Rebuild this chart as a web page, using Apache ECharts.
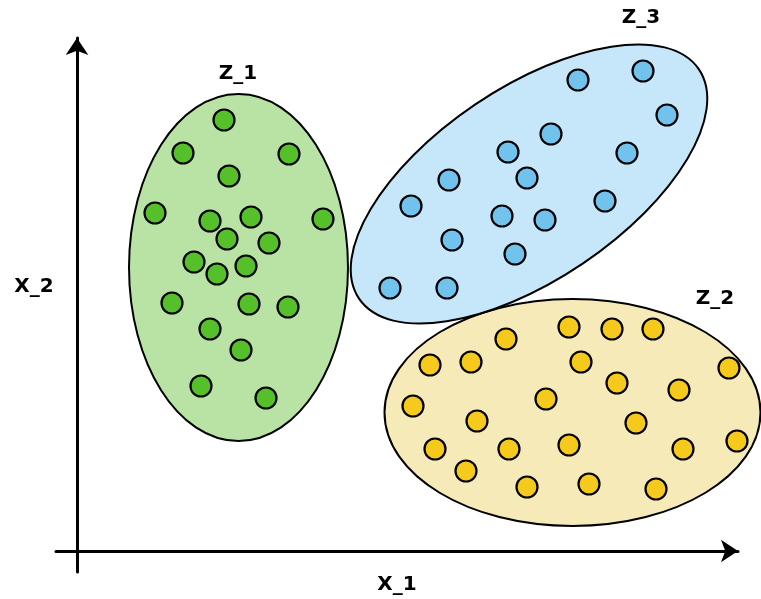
<!DOCTYPE html>
<html>
<head>
<meta charset="utf-8">
<script src="https://cdn.jsdelivr.net/npm/echarts@6/dist/echarts.min.js"></script>
<style>
  html, body { margin: 0; padding: 0; background: #fff; }
  #main { width: 761px; height: 599px; }
</style>
</head>
<body>
<div id="main"></div>
<script>
// cluster points (x_1, x_2)
var z1Points = [
  [147, 431], [106, 398], [212, 397], [152, 375], [78, 338], [133, 330],
  [174, 334], [246, 332], [150, 312], [192, 308], [117, 289], [140, 277],
  [169, 285], [95, 248], [172, 247], [211, 244], [133, 222], [164, 201],
  [124, 165], [189, 153]
];
var z3Points = [
  [501, 471], [566, 480], [590, 436], [474, 417], [431, 399], [550, 398],
  [372, 371], [450, 373], [334, 345], [425, 335], [468, 331], [528, 350],
  [375, 311], [438, 297], [313, 263], [370, 263]
];
var z2Points = [
  [492, 224], [535, 222], [576, 222], [429, 212], [353, 186], [394, 189],
  [504, 189], [652, 183], [540, 168], [602, 161], [336, 145], [469, 152],
  [400, 130], [559, 128], [358, 102], [432, 102], [492, 106], [606, 102],
  [660, 110], [389, 80], [450, 64], [512, 67], [579, 62]
];
// cluster outlines: centre x, centre y, radius x, radius y, tilt (deg)
var z1Shape = [161.5, 283.5, 109.5, 173.5, 0];
var z2Shape = [495.5, 138.5, 188, 113.5, 0];
var z3Shape = [452, 367, 205, 96, 34];

var clusterNames = ['Z_1', 'Z_2', 'Z_3'];
var axisNames = ['X_1', 'X_2'];

var dotColors = ['#56C02B', '#F5CA1C', '#71C2EC'];
var blobColors = ['#B9E3A5', '#F6EAB9', '#C6E7F9'];

var myChart = echarts.init(document.getElementById('main'));

function blobSeries(shape, fill) {
  return {
    type: 'custom',
    z: 1,
    silent: true,
    data: [shape],
    renderItem: function (params, api) {
      var c = api.coord([api.value(0), api.value(1)]);
      var s = api.size([api.value(2), api.value(3)]);
      return {
        type: 'ellipse',
        x: c[0],
        y: c[1],
        rotation: api.value(4) * Math.PI / 180,
        shape: { cx: 0, cy: 0, rx: s[0], ry: s[1] },
        style: { fill: fill, stroke: '#000', lineWidth: 2 }
      };
    }
  };
}

function dotSeries(points, color) {
  return {
    type: 'scatter',
    z: 2,
    symbol: 'circle',
    symbolSize: 21,
    data: points,
    itemStyle: { color: color, borderColor: '#000', borderWidth: 2.2, opacity: 1 }
  };
}

var textStyle = { fontFamily: 'DejaVu Sans', fontWeight: 'bold', fontSize: 20, fill: '#000', textAlign: 'center', textVerticalAlign: 'middle' };
function label(txt, x, y) {
  return { type: 'text', x: x, y: y, style: Object.assign({ text: txt }, textStyle) };
}

var option = {
  backgroundColor: '#fff',
  animation: false,
  grid: { left: 56, right: 23, top: 38, bottom: 27 },
  xAxis: {
    type: 'value', min: -21, max: 661,
    axisLine: { onZero: true, lineStyle: { color: '#000', width: 3 }, symbol: ['none', 'arrow'], symbolSize: [17, 17] },
    axisTick: { show: false }, axisLabel: { show: false }, splitLine: { show: false }
  },
  yAxis: {
    type: 'value', min: -21, max: 513,
    axisLine: { onZero: true, lineStyle: { color: '#000', width: 3 }, symbol: ['none', 'arrow'], symbolSize: [17, 17] },
    axisTick: { show: false }, axisLabel: { show: false }, splitLine: { show: false }
  },
  graphic: [
    label(clusterNames[0], 238, 74),
    label(clusterNames[2], 641, 18),
    label(clusterNames[1], 715, 299),
    label(axisNames[0], 397, 585),
    label(axisNames[1], 34, 287)
  ],
  series: [
    blobSeries(z1Shape, blobColors[0]),
    blobSeries(z2Shape, blobColors[1]),
    blobSeries(z3Shape, blobColors[2]),
    dotSeries(z1Points, dotColors[0]),
    dotSeries(z2Points, dotColors[1]),
    dotSeries(z3Points, dotColors[2])
  ]
};
myChart.setOption(option);
</script>
</body>
</html>
